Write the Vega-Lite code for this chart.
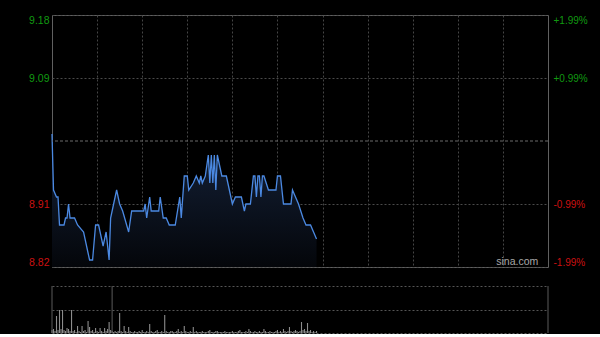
{
"$schema":"https://vega.github.io/schema/vega-lite/v6.json",
"background":"#000000",
"padding":{"left":0,"top":14,"right":0,"bottom":0},
"bounds":"flush",
"spacing":19,
"config":{"font":"Liberation Sans","view":{"stroke":null},"scale":{"continuousPadding":0},"axis":{"titleFontSize":10}},
"datasets":{
"price":[{"t":0,"p":9.01},{"t":1,"p":8.93},{"t":3,"p":8.92},{"t":4,"p":8.92},{"t":5,"p":8.88},{"t":8,"p":8.88},{"t":9,"p":8.89},{"t":10,"p":8.89},{"t":11,"p":8.91},{"t":12,"p":8.89},{"t":15,"p":8.89},{"t":17,"p":8.88},{"t":21,"p":8.87},{"t":24,"p":8.84},{"t":25,"p":8.83},{"t":27,"p":8.83},{"t":29,"p":8.88},{"t":31,"p":8.88},{"t":32,"p":8.87},{"t":34,"p":8.85},{"t":36,"p":8.87},{"t":38,"p":8.83},{"t":39,"p":8.89},{"t":41,"p":8.91},{"t":43,"p":8.93},{"t":45,"p":8.91},{"t":47,"p":8.9},{"t":51,"p":8.87},{"t":53,"p":8.9},{"t":61,"p":8.9},{"t":62,"p":8.91},{"t":63,"p":8.89},{"t":65,"p":8.92},{"t":66,"p":8.9},{"t":71,"p":8.9},{"t":72,"p":8.92},{"t":74,"p":8.89},{"t":76,"p":8.89},{"t":78,"p":8.88},{"t":82,"p":8.88},{"t":85,"p":8.92},{"t":86,"p":8.89},{"t":88,"p":8.95},{"t":90,"p":8.95},{"t":91,"p":8.93},{"t":94,"p":8.94},{"t":96,"p":8.95},{"t":98,"p":8.94},{"t":99,"p":8.95},{"t":100,"p":8.94},{"t":102,"p":8.95},{"t":104,"p":8.98},{"t":105,"p":8.94},{"t":106,"p":8.98},{"t":107,"p":8.94},{"t":108,"p":8.98},{"t":109,"p":8.93},{"t":110,"p":8.98},{"t":113,"p":8.95},{"t":116,"p":8.95},{"t":118,"p":8.93},{"t":120,"p":8.91},{"t":122,"p":8.92},{"t":126,"p":8.92},{"t":128,"p":8.9},{"t":129,"p":8.91},{"t":132,"p":8.91},{"t":134,"p":8.95},{"t":135,"p":8.95},{"t":136,"p":8.92},{"t":137,"p":8.95},{"t":138,"p":8.95},{"t":139,"p":8.92},{"t":140,"p":8.95},{"t":141,"p":8.95},{"t":144,"p":8.93},{"t":149,"p":8.93},{"t":150,"p":8.95},{"t":152,"p":8.95},{"t":154,"p":8.91},{"t":159,"p":8.91},{"t":160,"p":8.93},{"t":162,"p":8.92},{"t":164,"p":8.91},{"t":167,"p":8.89},{"t":169,"p":8.88},{"t":172,"p":8.88},{"t":174,"p":8.87},{"t":176,"p":8.86}],
"vol":[{"t":0,"v":3},{"t":1,"v":4},{"t":2,"v":2},{"t":3,"v":17},{"t":4,"v":3},{"t":5,"v":23},{"t":6,"v":4},{"t":7,"v":23},{"t":8,"v":3},{"t":9,"v":2},{"t":10,"v":5},{"t":11,"v":4},{"t":12,"v":2},{"t":13,"v":23},{"t":14,"v":2},{"t":15,"v":3},{"t":16,"v":1},{"t":17,"v":7},{"t":18,"v":2},{"t":19,"v":1},{"t":20,"v":7},{"t":21,"v":2},{"t":22,"v":3},{"t":23,"v":1},{"t":24,"v":12},{"t":25,"v":6},{"t":26,"v":2},{"t":27,"v":3},{"t":28,"v":1},{"t":29,"v":5},{"t":30,"v":2},{"t":31,"v":1},{"t":32,"v":5},{"t":33,"v":2},{"t":34,"v":1},{"t":35,"v":5},{"t":36,"v":2},{"t":37,"v":4},{"t":38,"v":11},{"t":39,"v":3},{"t":40,"v":2},{"t":41,"v":1},{"t":42,"v":2},{"t":43,"v":1},{"t":44,"v":2},{"t":45,"v":20},{"t":46,"v":2},{"t":47,"v":1},{"t":48,"v":7},{"t":49,"v":2},{"t":50,"v":1},{"t":51,"v":6},{"t":52,"v":2},{"t":53,"v":1},{"t":54,"v":1},{"t":55,"v":2},{"t":56,"v":1},{"t":57,"v":1},{"t":58,"v":2},{"t":59,"v":1},{"t":60,"v":3},{"t":61,"v":1},{"t":62,"v":1},{"t":63,"v":2},{"t":64,"v":1},{"t":65,"v":9},{"t":66,"v":2},{"t":67,"v":1},{"t":68,"v":1},{"t":69,"v":2},{"t":70,"v":3},{"t":71,"v":1},{"t":72,"v":1},{"t":73,"v":2},{"t":74,"v":1},{"t":75,"v":18},{"t":76,"v":2},{"t":77,"v":1},{"t":78,"v":1},{"t":79,"v":2},{"t":80,"v":2},{"t":81,"v":1},{"t":82,"v":1},{"t":83,"v":2},{"t":84,"v":4},{"t":85,"v":1},{"t":86,"v":2},{"t":87,"v":1},{"t":88,"v":7},{"t":89,"v":2},{"t":90,"v":1},{"t":91,"v":1},{"t":92,"v":2},{"t":93,"v":1},{"t":94,"v":6},{"t":95,"v":1},{"t":96,"v":2},{"t":97,"v":1},{"t":98,"v":1},{"t":99,"v":1},{"t":100,"v":2},{"t":101,"v":1},{"t":102,"v":1},{"t":103,"v":1},{"t":104,"v":2},{"t":105,"v":3},{"t":106,"v":1},{"t":107,"v":1},{"t":108,"v":1},{"t":109,"v":2},{"t":110,"v":2},{"t":111,"v":1},{"t":112,"v":1},{"t":113,"v":1},{"t":114,"v":1},{"t":115,"v":2},{"t":116,"v":1},{"t":117,"v":1},{"t":118,"v":1},{"t":119,"v":1},{"t":120,"v":2},{"t":121,"v":1},{"t":122,"v":1},{"t":123,"v":1},{"t":124,"v":2},{"t":125,"v":3},{"t":126,"v":1},{"t":127,"v":1},{"t":128,"v":1},{"t":129,"v":2},{"t":130,"v":1},{"t":131,"v":4},{"t":132,"v":2},{"t":133,"v":1},{"t":134,"v":1},{"t":135,"v":2},{"t":136,"v":1},{"t":137,"v":1},{"t":138,"v":2},{"t":139,"v":1},{"t":140,"v":1},{"t":141,"v":4},{"t":142,"v":2},{"t":143,"v":1},{"t":144,"v":1},{"t":145,"v":2},{"t":146,"v":1},{"t":147,"v":1},{"t":148,"v":1},{"t":149,"v":2},{"t":150,"v":3},{"t":151,"v":1},{"t":152,"v":2},{"t":153,"v":1},{"t":154,"v":4},{"t":155,"v":2},{"t":156,"v":1},{"t":157,"v":2},{"t":158,"v":6},{"t":159,"v":2},{"t":160,"v":1},{"t":161,"v":2},{"t":162,"v":3},{"t":163,"v":2},{"t":164,"v":1},{"t":165,"v":2},{"t":166,"v":11},{"t":167,"v":3},{"t":168,"v":4},{"t":169,"v":2},{"t":170,"v":10},{"t":171,"v":2},{"t":172,"v":3},{"t":173,"v":1},{"t":174,"v":2},{"t":175,"v":1},{"t":176,"v":2}],
"vlines":[{"t":0},{"t":40},{"t":330}]
},
"vconcat":[
{
"width":496,"height":252,
"view":{"stroke":"#606060","strokeWidth":1},
"layer":[
{"data":{"name":"price"},
 "mark":{"type":"area","color":{"gradient":"linear","x1":0,"y1":0,"x2":0,"y2":1,"stops":[{"offset":0,"color":"#15223a"},{"offset":1,"color":"#04060a"}]}},
 "encoding":{
  "x":{"field":"t","type":"quantitative","scale":{"domain":[0,330],"nice":false,"padding":0},"axis":{"values":[30,60,90,120,150,180,210,240,270,300],"grid":true,"gridColor":"#454545","gridDash":[2,2],"labels":false,"ticks":false,"domain":false,"title":null}},
  "y":{"field":"p","type":"quantitative","scale":{"domain":[8.82,9.18],"zero":false,"nice":false},"axis":{"values":[8.82,8.91,9.09,9.18],"format":".2f","grid":true,"gridColor":"#4a4a4a","gridDash":[2,2],"ticks":false,"domain":false,"labelFlush":true,"labelPadding":3,"labelFontSize":10.5,"labelFont":"Liberation Sans","labelColor":{"condition":{"test":"datum.value < 9","value":"#cc1111"},"value":"#119911"},"title":null,"minExtent":51,"maxExtent":51}},
  "y2":{"datum":8.82}
 }},
{"data":{"name":"price"},
 "mark":{"type":"line","color":"#4b89e2","strokeWidth":1.3},
 "encoding":{
  "x":{"field":"t","type":"quantitative"},
  "y":{"field":"p","type":"quantitative","axis":null}
 }},
{"data":{"values":[{}]},
 "mark":{"type":"rule","color":"#6a6a6a","strokeDash":[3,2]},
 "encoding":{
  "y":{"datum":9.0,"type":"quantitative","axis":{"orient":"right","values":[8.82,8.91,9.09,9.18],"labelExpr":"datum.value > 9.1 ? '+1.99%' : datum.value > 9 ? '+0.99%' : datum.value > 8.85 ? '-0.99%' : '-1.99%'","grid":false,"ticks":false,"domain":false,"labelFlush":true,"labelPadding":5,"labelFontSize":10,"labelFont":"Liberation Sans","labelColor":{"condition":{"test":"datum.value < 9","value":"#cc1111"},"value":"#119911"},"title":null,"minExtent":52,"maxExtent":52}}
 }},
{"data":{"values":[{}]},
 "mark":{"type":"text","text":"sina.com","align":"right","baseline":"alphabetic","color":"#a8a8a8","fontSize":10.5,"font":"Liberation Sans"},
 "encoding":{
  "x":{"datum":323.5,"type":"quantitative"},
  "y":{"datum":8.823,"type":"quantitative","axis":null}
 }}
],
"resolve":{"axis":{"y":"independent"}}
},
{
"width":496,"height":47,
"view":{"stroke":null},
"layer":[
{"data":{"name":"vol"},
 "mark":{"type":"bar","size":1.1,"color":"#8c8c8c"},
 "encoding":{
  "x":{"field":"t","type":"quantitative","scale":{"domain":[0,330],"nice":false,"padding":0},"axis":null},
  "y":{"field":"v","type":"quantitative","scale":{"domain":[0,47],"nice":false},"axis":{"values":[0,23.5,47],"grid":true,"gridColor":"#555555","gridDash":[2,2],"labels":false,"ticks":false,"domain":false,"title":null,"minExtent":51,"maxExtent":51}}
 }},
{"data":{"name":"vlines"},
 "mark":{"type":"rule","color":"#5a5a5a"},
 "encoding":{
  "x":{"field":"t","type":"quantitative"}
 }}
]
}
]
}
